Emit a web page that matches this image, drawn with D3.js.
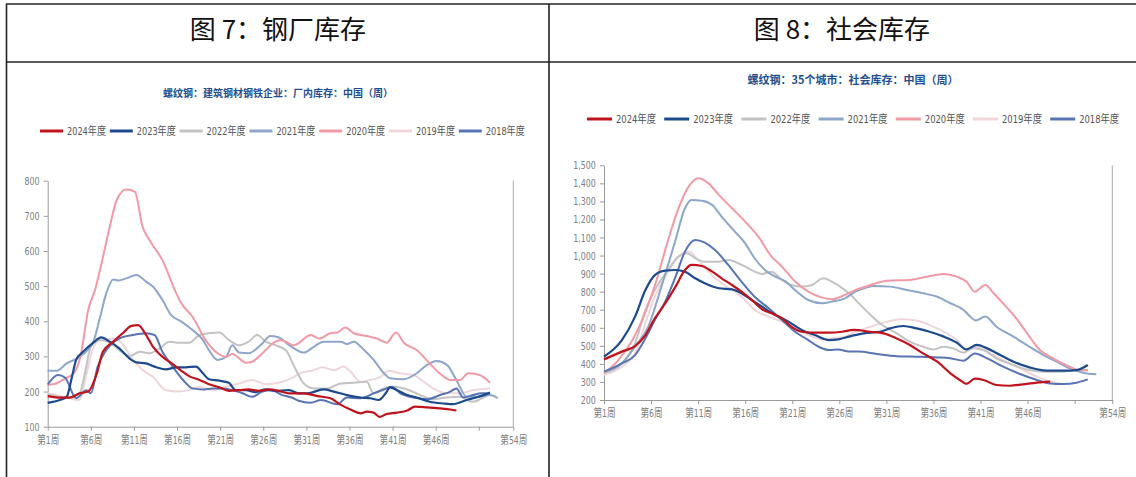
<!DOCTYPE html>
<html>
<head>
<meta charset="utf-8">
<script src="https://cdn.jsdelivr.net/npm/d3@7"></script>
<style>
  html, body { margin: 0; padding: 0; background: #fff; }
  svg { display: block; }
  .tick text { font-family: "Liberation Sans Narrow", "DejaVu Sans Condensed", "Noto Sans CJK SC", sans-serif; fill: #808080; }
</style>
</head>
<body>
<div id="chart"></div>
<script>
// ---- data (week, value) ----
const years = ["2024年度", "2023年度", "2022年度", "2021年度", "2020年度", "2019年度", "2018年度"];
const colors = ["#c0131c", "#1c4a8c", "#c3c3c3", "#8ea6c9", "#f19aa5", "#efd6da", "#5874b2"];

const xTickWeeks = [1, 6, 11, 16, 21, 26, 31, 36, 41, 46, 51, 55];
const xTickLabels = ["第1周", "第6周", "第11周", "第16周", "第21周", "第26周", "第31周", "第36周", "第41周", "第46周", "", "第54周"];

// 图7 钢厂库存
const mill2024 = [[1,187],[2.2,183],[3.6,183],[4.7,195],[5.7,200],[6.7,252],[7.4,313],[8.6,342],[9.7,366],[10.7,387],[11.5,389],[12.4,361],[13.2,328],[14.3,299],[15.5,278],[16.5,259],[17.4,244],[18.6,233],[19.7,221],[20.9,212],[22,202],[23.2,204],[24.3,206],[25.5,202],[26.7,206],[27.8,202],[29,195],[30.7,195],[32.3,187],[33.8,181],[35,162],[36.1,149],[37.3,138],[38,143],[38.8,140],[39.5,128],[40.3,136],[41.5,140],[42.7,146],[43.6,157],[45,155],[46.5,152],[47.7,149],[48.4,146]];
const mill2023 = [[1,168],[2.4,176],[3.2,185],[3.8,240],[4.3,290],[5.1,313],[6.3,339],[7.2,354],[8.2,342],[9.3,323],[10.5,294],[11.3,283],[12.4,280],[13.6,269],[14.7,263],[15.9,269],[17,269],[18.2,271],[19,252],[19.7,235],[20.9,231],[22,225],[22.8,204],[24,204],[25.1,198],[26.3,206],[27.4,202],[29,204],[30.1,195],[31.1,195],[33,206],[34.2,200],[35.7,190],[37.3,183],[38.4,181],[39.4,176],[40.2,195],[40.7,212],[41.5,204],[42.7,190],[43.8,183],[45.3,171],[46.9,166],[48,164],[49.6,176],[50.7,183],[52.3,197]];
const mill2022 = [[1,192],[3.2,183],[4.7,195],[5.3,250],[6,328],[7,347],[8.2,339],[9.3,318],[10.5,301],[11.7,313],[12.8,309],[14,323],[15.1,342],[16.3,339],[17.4,339],[18.6,361],[19.7,366],[20.9,368],[22,347],[23.2,332],[24.3,342],[25.3,361],[26.3,342],[27.4,332],[28.6,318],[29.6,271],[30.7,223],[31.9,209],[33.4,209],[35,223],[36.5,225],[38,228],[38.8,195],[40,209],[41.1,214],[42.7,206],[44.2,190],[45.7,178],[47.3,183],[48.8,185],[50.3,171],[51.5,183],[52.3,195]];
const mill2021 = [[1,259],[2,259],[3.2,280],[4.7,299],[6.3,342],[7,404],[7.8,480],[8.6,519],[9.2,516],[10.1,522],[11.3,532],[12.4,513],[13.2,499],[14.3,461],[15.3,418],[16.5,399],[17.8,375],[19,347],[19.7,318],[20.7,290],[21.7,299],[22.4,332],[23.2,311],[24.3,309],[25.9,337],[26.8,358],[27.8,354],[29,332],[30.7,311],[31.9,328],[33,342],[35,342],[35.7,335],[36.5,342],[37.7,318],[38.8,290],[40,252],[40.7,238],[42.3,235],[43.8,252],[45,276],[46.1,287],[47.3,276],[48.4,233],[49.6,185],[50.7,185],[52.3,190],[53.2,181]];
const mill2020 = [[1,219],[2,223],[3,237],[4,252],[4.8,300],[5.7,432],[6.5,490],[7.2,560],[8.2,669],[9,745],[10.1,775],[11.1,769],[12,669],[12.8,631],[14.3,574],[15.9,480],[16.5,451],[17.8,413],[19.3,347],[20.7,309],[21.7,299],[22.4,307],[24,282],[24.7,285],[25.9,309],[27.4,342],[28,347],[29.6,332],[31.5,361],[32.5,351],[33.8,366],[34.6,368],[35.5,382],[36.5,366],[38,358],[39.2,351],[40.3,339],[41.4,368],[42.3,339],[43.8,318],[45.3,280],[46.7,247],[47.7,233],[48.8,233],[49.8,252],[51.1,247],[52.3,225]];
const mill2019 = [[1,195],[3.2,183],[4.7,176],[5.5,250],[6.2,320],[7,345],[8.5,350],[9.5,340],[10.9,290],[12,261],[13.2,242],[14.7,204],[16.3,200],[17.4,204],[18.6,214],[20.1,204],[21.7,214],[23.2,223],[24.7,233],[26.3,221],[27.8,225],[29.3,238],[30.3,252],[31.9,261],[32.8,269],[34.2,261],[35.3,271],[36.1,257],[37.3,228],[38.4,233],[39.6,242],[40.5,259],[41.9,252],[43.4,247],[44.6,228],[45.7,209],[47.3,195],[48.8,195],[50.3,204],[52.3,209]];
const mill2018 = [[1,220],[2.2,247],[3,240],[4.3,181],[5.5,204],[6,195],[6.8,271],[7.8,318],[9.3,351],[10.9,361],[12.4,366],[13.4,361],[14.3,313],[15.5,271],[16.7,233],[17.8,209],[19,206],[20.1,209],[21.3,209],[22.4,204],[23.6,195],[24.7,185],[25.9,200],[27,204],[28.2,190],[29.3,183],[30.1,174],[31.5,168],[32.7,176],[34.6,164],[35.7,183],[37.3,181],[38.8,195],[40,206],[40.9,214],[41.9,195],[43.4,183],[45,178],[46.5,190],[47.7,200],[48.4,209],[49.2,183],[50.3,190],[51.3,195],[52.3,195]];

// 图8 社会库存
const soc2024 = [[1,425],[2.9,468],[4.3,499],[5.4,560],[6.4,652],[7.5,735],[8.6,828],[9.6,920],[10.3,948],[11.4,942],[12.5,911],[13.5,874],[14.6,837],[15.6,800],[16.7,754],[17.8,702],[18.8,680],[19.9,652],[20.9,606],[22,578],[23.4,573],[24.9,573],[26.3,578],[27.5,588],[29.3,578],[30.7,569],[32.1,541],[33.5,505],[34.9,458],[36.4,412],[37.8,348],[38.8,311],[39.5,289],[40.4,318],[41.3,311],[42.7,283],[44.1,279],[45.5,287],[47,296],[48.4,302]];
const soc2023 = [[1,440],[2.9,532],[4.3,662],[5.4,809],[6.4,892],[7.5,917],[8.6,920],[9.6,911],[10.7,874],[11.7,846],[13.2,819],[14.6,813],[15.6,791],[16.7,754],[17.8,717],[19.2,671],[20.6,634],[22,588],[23.4,560],[24.9,532],[25.9,536],[27,551],[28.6,569],[30.3,578],[31.4,597],[32.8,610],[34.2,597],[35.6,578],[37.1,551],[38.5,517],[39.5,480],[40.6,505],[41.7,486],[43.1,449],[44.5,412],[46.2,381],[48,363],[49.8,363],[51.2,366],[52.4,394]];
const soc2022 = [[1,348],[2.9,403],[4.3,514],[5.4,698],[6.4,809],[7.8,920],[8.9,994],[9.8,1013],[10.7,985],[11.7,966],[13.2,966],[14.2,976],[14.9,966],[16,939],[17,911],[17.8,898],[18.8,911],[19.9,865],[20.9,837],[22,828],[23.1,837],[24.3,874],[25.2,856],[26.6,809],[27.2,782],[28.6,708],[30.3,625],[32.1,569],[33.5,523],[34.9,495],[36,480],[37.1,495],[38.1,486],[39.2,462],[40.2,486],[41.3,477],[42.7,431],[44.5,394],[46.2,366],[47.7,357],[49.8,357],[51.2,366],[52.4,366]];
const soc2021 = [[1,357],[2.9,403],[4.3,495],[5.7,606],[7.1,828],[8.6,1086],[9.6,1262],[10.3,1308],[11.4,1304],[12.5,1280],[13.5,1216],[14.9,1133],[16,1068],[17,985],[18.1,920],[19.2,883],[20.3,856],[21.3,809],[22.7,754],[24.2,736],[25.2,745],[26.6,763],[27.7,800],[28.6,819],[29.6,832],[31.4,828],[33.2,809],[34.9,791],[36.4,772],[37.8,736],[39.2,699],[39.9,662],[40.5,640],[41.5,662],[42.7,606],[44.5,551],[46.2,495],[47.7,449],[49.1,412],[50.5,375],[51.9,351],[53.3,342]];
const soc2020 = [[1,348],[2.5,420],[4,530],[5.5,700],[6.5,850],[7.5,1030],[8.6,1216],[10,1382],[11,1428],[12.1,1400],[13.2,1336],[14.6,1262],[16,1188],[17.4,1105],[18.8,994],[19.9,939],[21.3,856],[22.7,800],[24.2,767],[25.2,758],[26.6,782],[27.7,809],[29.3,837],[31.1,861],[33.5,865],[35.3,883],[37.1,898],[38.5,883],[39.5,856],[40.4,800],[41.5,837],[42.4,791],[43.4,735],[44.8,652],[46.2,551],[47.3,477],[48.7,431],[50.1,394],[51.4,366],[52.4,363]];
const soc2019 = [[1,339],[2.9,385],[4.3,458],[5.4,625],[6.4,772],[7.8,911],[8.9,994],[10,1022],[11,976],[12.1,911],[13.5,846],[14.9,800],[16,754],[17,699],[18.5,662],[19.9,634],[21.3,597],[22.7,560],[24.2,536],[25.2,542],[26.6,551],[27.5,573],[29.3,606],[31.1,634],[32.5,647],[34.2,640],[35.6,615],[37.1,578],[38.5,532],[39.5,477],[40.6,495],[41.7,468],[43.4,421],[45.2,375],[47,329],[48.4,302],[49.5,292]];
const soc2018 = [[1,357],[2.9,403],[4.3,449],[5.4,542],[6.4,643],[7.5,745],[8.6,883],[9.6,1022],[10.7,1086],[11.7,1072],[12.8,1031],[14.2,948],[15.6,856],[17,772],[18.5,708],[19.9,643],[21.3,578],[22.7,532],[23.8,495],[24.9,477],[25.9,480],[27,468],[28,468],[30,455],[32.1,443],[34.2,440],[36.4,436],[37.8,431],[39.2,418],[40.4,458],[41.7,431],[43.4,385],[45.2,344],[47,311],[48.4,292],[49.8,289],[51.2,296],[52.4,314]];

const millSeries = [mill2024, mill2023, mill2022, mill2021, mill2020, mill2019, mill2018];
const socSeries = [soc2024, soc2023, soc2022, soc2021, soc2020, soc2019, soc2018];
const millYTicks = [100, 200, 300, 400, 500, 600, 700, 800];
const socYTicks = [200, 300, 400, 500, 600, 700, 800, 900, 1000, 1100, 1200, 1300, 1400, 1500];

const W = 1136, H = 477;
const svg = d3.select("#chart").append("svg").attr("width", W).attr("height", H);

// table frame
const frame = svg.append("g").attr("stroke", "#222").attr("stroke-width", 1.6);
frame.append("line").attr("x1", 6).attr("x2", W).attr("y1", 4).attr("y2", 4);
frame.append("line").attr("x1", 6).attr("x2", W).attr("y1", 62).attr("y2", 62);
frame.append("line").attr("x1", 6.5).attr("x2", 6.5).attr("y1", 4).attr("y2", H);
frame.append("line").attr("x1", 549).attr("x2", 549).attr("y1", 4).attr("y2", H);

const legendFont = '"Liberation Sans Narrow", "DejaVu Sans Condensed", "Noto Sans CJK SC", sans-serif';

// the source uses a narrow face; squeeze text horizontally
function condense(sel, k) {
  sel.each(function() {
    const len = this.getComputedTextLength();
    if (len > 0) {
      d3.select(this).attr("textLength", len * k).attr("lengthAdjust", "spacingAndGlyphs");
    }
  });
}

function drawChart(o) {
  const g = svg.append("g");

  g.append("text")
    .attr("x", o.cx).attr("y", 39)
    .attr("text-anchor", "middle")
    .attr("font-family", '"Noto Sans CJK SC", sans-serif')
    .attr("font-size", 26)
    .attr("fill", "#111")
    .text(o.title);

  g.append("text")
    .attr("x", o.subX).attr("y", o.subY)
    .attr("text-anchor", "middle")
    .attr("font-family", '"Noto Sans CJK SC", sans-serif')
    .attr("font-weight", "bold")
    .attr("font-size", o.subSize)
    .attr("fill", "#1f4f8f")
    .text(o.subtitle);

  // legend
  const lg = g.append("g");
  years.forEach((name, i) => {
    const x0 = o.legX + i * o.legStep;
    lg.append("line")
      .attr("x1", x0).attr("x2", x0 + o.swatch)
      .attr("y1", o.legY).attr("y2", o.legY)
      .attr("stroke", colors[i]).attr("stroke-width", 3);
    lg.append("text")
      .attr("x", x0 + o.swatch + 4).attr("y", o.legY + 4)
      .attr("font-family", legendFont)
      .attr("font-size", 11)
      .attr("fill", "#555")
      .attr("textLength", o.legText)
      .attr("lengthAdjust", "spacingAndGlyphs")
      .text(name);
  });

  const x = d3.scaleLinear().domain([1, 55]).range([o.left, o.right]);
  const y = d3.scaleLinear().domain(o.yDomain).range([o.bottom, o.top]);

  const xAxis = g.append("g")
    .attr("transform", `translate(0,${o.bottom})`)
    .call(d3.axisBottom(x).tickValues(xTickWeeks).tickSize(4).tickSizeOuter(0)
      .tickFormat((d, i) => xTickLabels[i]));
  xAxis.selectAll("text").attr("font-size", 11).attr("dy", "0.9em");
  condense(xAxis.selectAll("text"), 0.78);

  const yAxis = g.append("g")
    .attr("transform", `translate(${o.left},0)`)
    .call(d3.axisLeft(y).tickValues(o.yTicks).tickSize(4).tickSizeOuter(0)
      .tickFormat(d3.format(",")));
  yAxis.selectAll("text").attr("font-size", 11).attr("dx", "-0.1em");
  condense(yAxis.selectAll("text"), 0.8);

  [xAxis, yAxis].forEach(a => {
    a.select(".domain").attr("stroke", "#999");
    a.selectAll(".tick line").attr("stroke", "#999");
  });

  // right border line of the plot
  g.append("line")
    .attr("x1", o.right).attr("x2", o.right)
    .attr("y1", o.top).attr("y2", o.bottom)
    .attr("stroke", "#aaa");

  const line = d3.line()
    .x(d => x(d[0]))
    .y(d => y(d[1]))
    .curve(d3.curveMonotoneX);

  // draw older years first so 2024 stays on top
  const order = [5, 2, 3, 4, 6, 1, 0];
  order.forEach(i => {
    g.append("path")
      .datum(o.series[i])
      .attr("fill", "none")
      .attr("stroke", colors[i])
      .attr("stroke-width", i < 2 ? 2.2 : 2)
      .attr("stroke-linejoin", "round")
      .attr("d", line);
  });
}

drawChart({
  title: "图 7：钢厂库存", cx: 278,
  subtitle: "螺纹钢：建筑钢材钢铁企业：厂内库存：中国（周）", subX: 278, subY: 97, subSize: 10,
  legX: 40, legY: 131, legStep: 69.8, swatch: 23, legText: 39,
  left: 47.7, right: 513.3, top: 180.7, bottom: 426.7,
  yDomain: [100, 800], yTicks: millYTicks,
  series: millSeries
});

drawChart({
  title: "图 8：社会库存", cx: 842,
  subtitle: "螺纹钢：35个城市：社会库存：中国（周）", subX: 853, subY: 84, subSize: 11,
  legX: 587, legY: 119, legStep: 77.2, swatch: 25, legText: 40,
  left: 604, right: 1112.3, top: 165.3, bottom: 400,
  yDomain: [200, 1500], yTicks: socYTicks,
  series: socSeries
});
</script>
</body>
</html>
